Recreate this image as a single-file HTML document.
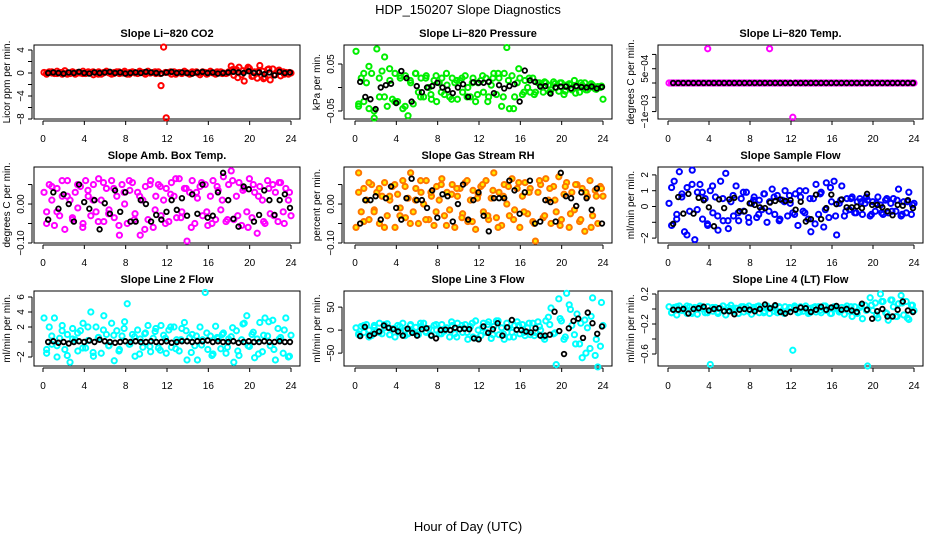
<!DOCTYPE html>
<html><head><meta charset="utf-8"><style>
body{margin:0;background:#fff;}
svg{display:block;font-family:"Liberation Sans",Arial,sans-serif;}
</style></head><body>
<svg id="chart" width="936" height="540" viewBox="0 0 936 540" xmlns="http://www.w3.org/2000/svg">
<rect width="936" height="540" fill="#fff"/>
<text x="468" y="14" font-size="13" text-anchor="middle">HDP_150207  Slope Diagnostics</text>
<text x="468" y="531" font-size="13" text-anchor="middle">Hour of Day (UTC)</text>
</svg>
<script>
const xTicks=[0,4,8,12,16,20,24];
const titles=["Slope Li\u2212820 CO2","Slope Li\u2212820 Pressure","Slope Li\u2212820 Temp.","Slope Amb. Box Temp.","Slope Gas Stream RH","Slope Sample Flow","Slope Line 2 Flow","Slope Line 3 Flow","Slope Line 4 (LT) Flow"];
const yTitles=["Licor ppm per min.","kPa per min.","degrees C per min.","degrees C per min.","percent per min.","ml/min per min.","ml/min per min.","ml/min per min.","ml/min per min."];
const yRanges=[[-8.0,4.87],[-0.067,0.0904],[-0.00126,0.00133],[-0.1,0.095],[-0.1,0.095],[-2.31,2.5],[-3.2,6.8],[-78,85],[-0.76,0.24]];
const yTicks=[[-8,-6,-4,-2,0,2,4],[-0.05,0,0.05],[-0.001,-0.0005,0,0.0005,0.001],[-0.1,-0.05,0,0.05],[-0.1,-0.05,0,0.05],[-2,-1,0,1,2],[-2,0,2,4,6],[-50,0,50],[-0.6,-0.4,-0.2,0,0.2]];
const yTickLabels=[["\u22128","","\u22124","","0","","4"],["\u22120.05","","0.05"],["\u22121e\u221203","","","5e\u221204",""],["\u22120.10","","0.00",""],["\u22120.10","","0.00",""],["\u22122","","0","1","2"],["\u22122","","2","4","6"],["\u221250","0","50"],["\u22120.6","","\u22120.2","","0.2"]];
const colors=["#ff0000","#00ee00","#ff00ff","#ff00ff","#ff7700","#0000ff","#00ffff","#00ffff","#00ffff"];

const co2C=[0.1,-0.2,0.2,0,-0.1,0.3,0.1,-0.2,0.4,0,-0.1,0.2,-0.2,0.1,0,0.3,-0.1,0.2,0.1,-0.3,0,0.2,-0.2,0.1,0.3,0,-0.2,0.1,0.2,-0.1,0,0.3,-0.2,0.1,0.2,0,-0.1,0.2,0.1,-0.2,0.3,0,0.1,-0.1,0.2,-2.2,4.5,-7.8,0.1,-0.2,0.2,0,0.1,-0.1,0.3,0,-0.2,0.2,0.1,0,-0.3,0.2,0.1,-0.1,0.3,0,-0.2,0.1,0.2,0,-0.1,0.2,1.2,-0.4,0.6,1.0,-0.3,-1.4,0.5,0.8,-0.6,0.2,-0.9,1.3,0.3,-0.8,0.6,-1.2,0.7,-0.3,0.4,-0.5,0.2,0.1,-0.2,0];
const co2C2=[0,0.2,-0.1,0.1,-0.2,0.2,0,-0.1,0.1,0.2,-0.2,0,0.1,-0.1,0.2,0,-0.2,0.1,0.3,-0.1,0,0.2,-0.1,0.1,0.2,-0.2,0,0.1,-0.1,0.2,0,-0.2,0.1,0.2,-0.1,0,0.6,-0.8,0.4,1.0,-0.5,0.3,-1.0,0.7,-0.3,0.5,-0.2,0.1];
const co2B=[0,0.1,0,-0.1,0.1,0,0.2,0,-0.1,0.1,0,0.1,0.2,0,0.1,-0.1,0,0.1,0,0.2,0.1,0,-0.1,0.1,0.2,0,0.1,0,-0.1,0.1,0.2,0,0.1,-0.1,0,0.1,0.2,0.1,0,0.3,0,0.1,-0.2,0.1,-0.4,0.2,0,0.1];
const presC=[0.077,-0.035,0.02,-0.03,0.01,-0.045,0.03,-0.065,0.082,-0.02,0.035,0.065,-0.04,0.015,-0.025,0.03,-0.03,0.02,-0.045,0.025,-0.06,0.01,-0.035,0.03,-0.01,0.02,-0.02,0.025,0,-0.025,0.015,-0.03,0.01,0.02,-0.015,0.005,-0.02,0.02,0.01,-0.025,0.015,-0.01,0.025,0,-0.02,0.02,-0.03,0.01,0.015,-0.01,0.02,-0.02,0.005,0.03,-0.015,0.02,-0.04,0.03,0.085,-0.045,0.025,-0.02,0.01,0.02,-0.015,0.015,0,-0.01,0.02,-0.01,0.01,0.005,-0.01,0.01,0.005,-0.005,0.012,0,-0.008,0.01,-0.015,0.005,0.008,-0.005,0.015,0,-0.01,0.005,0.01,-0.005,0,0.005,-0.003,0.002,0,-0.025];
const presC2=[-0.04,0.03,0.045,-0.05,0.02,-0.02,0.04,-0.03,0.025,-0.04,0.015,0.03,-0.02,0.02,-0.015,0.025,-0.01,0.03,-0.025,0.015,0.02,-0.02,0.01,-0.015,0.025,-0.03,0.02,0.03,-0.02,0.015,-0.045,0.04,-0.01,0.02,-0.015,0.01,0.012,-0.01,0.008,0.01,-0.008,0.006,-0.012,0.01,-0.005,0.008,-0.004,0.003];
const presB=[0.012,-0.02,-0.025,-0.046,0.0,0.005,0.008,-0.033,0.035,0.02,-0.03,0.003,-0.01,0.0,0.003,0.01,0,-0.005,-0.012,0.0,0.007,-0.02,0.011,0.01,0.01,0.012,-0.012,0.005,-0.002,0.003,0.007,-0.03,0.036,0.015,0.012,0.002,0.003,-0.013,0.0,0.002,0.002,-0.002,0.003,0.001,0.0,0.002,-0.002,0.001];
const tempC=[0,0,0,0,0,0,0,0,0,0,0,0,0,0,0,0.0012,0,0,0,0,0,0,0,0,0,0,0,0,0,0,0,0,0,0,0,0,0,0,0,0.0012,0,0,0,0,0,0,0,0,-0.0012,0,0,0,0,0,0,0,0,0,0,0,0,0,0,0,0,0,0,0,0,0,0,0,0,0,0,0,0,0,0,0,0,0,0,0,0,0,0,0,0,0,0,0,0,0,0,0];
const tempC2=[0,0,0,0,0,0,0,0,0,0,0,0,0,0,0,0,0,0,0,0,0,0,0,0,0,0,0,0,0,0,0,0,0,0,0,0,0,0,0,0,0,0,0,0,0,0,0,0];
const tempB=[0,0,0,0,0,0,0,0,0,0,0,0,0,0,0,0,0,0,0,0,0,0,0,0,0,0,0,0,0,0,0,0,0,0,0,0,0,0,0,0,0,0,0,0,0,0,0,0];
const ambC=[0.03,-0.02,0.05,0.01,-0.055,0.04,-0.03,0.02,-0.065,0.06,0.01,-0.04,0.03,-0.01,0.045,-0.05,0.06,0.02,-0.03,0.05,-0.02,0.065,0.01,-0.045,0.04,-0.015,0.06,-0.035,0.02,-0.08,0.05,0.0,-0.05,0.035,0.055,-0.025,0.03,-0.08,0.01,0.045,-0.04,0.06,-0.06,0.02,0.05,-0.03,0.01,0.04,-0.045,0.055,0.02,-0.035,0.065,-0.02,0.04,-0.095,0.03,0.06,-0.05,0.015,0.045,-0.03,0.05,-0.055,0.02,0.06,-0.04,0.035,-0.015,0.07,-0.045,0.05,0.085,-0.04,0.02,0.055,-0.055,0.04,-0.02,0.065,-0.035,0.03,-0.075,0.045,0.01,-0.05,0.06,-0.025,0.05,0.03,-0.045,0.055,-0.02,0.04,0.01,-0.03];
const ambC2=[-0.05,0.045,-0.02,0.06,0.02,-0.035,0.05,-0.06,0.035,0.01,-0.045,0.055,-0.025,0.04,-0.055,0.03,0.06,-0.04,0.02,-0.065,0.05,-0.015,0.045,-0.05,0.025,0.065,-0.035,0.04,-0.06,0.03,0.055,-0.02,-0.05,0.045,0.01,-0.04,0.06,-0.03,0.035,-0.06,0.05,0.02,-0.045,0.04,-0.03,0.055,-0.05,0.03];
const ambB=[-0.04,0.03,-0.012,0.025,0,-0.045,0.05,0.005,-0.012,0.01,-0.065,0.002,-0.025,0.035,-0.02,0.03,-0.045,-0.045,0.01,0.0,-0.045,-0.028,-0.04,-0.02,0.01,-0.015,0.015,-0.03,0.025,-0.025,0.05,-0.035,-0.03,0.03,0.08,0.01,-0.038,-0.058,0.045,0.038,-0.045,-0.028,0.035,0.01,-0.028,0.01,0.025,-0.01];
const rhC=[-0.06,0.08,-0.02,0.04,0.01,-0.04,0.05,-0.015,0.03,-0.05,0.02,0.055,-0.03,0.01,0.045,-0.06,0.025,-0.01,0.06,-0.035,0.015,0.08,-0.02,0.04,-0.05,0.03,0.0,0.06,-0.04,0.02,-0.055,0.045,0.01,0.065,-0.03,0.03,-0.015,0.05,-0.06,0.02,0.04,-0.025,0.055,-0.045,0.01,0.035,-0.065,0.025,0.045,-0.02,0.06,-0.04,0.015,0.08,-0.035,0.03,-0.055,0.05,0.0,-0.03,0.065,-0.015,0.04,-0.06,0.02,0.055,-0.025,0.04,-0.045,-0.095,0.03,0.05,-0.035,0.065,0.01,-0.05,0.045,-0.02,0.07,-0.04,0.025,0.055,-0.06,0.03,-0.015,0.05,-0.045,0.04,-0.07,0.02,0.06,-0.03,0.035,-0.05,0.045,0.02];
const rhC2=[0.03,-0.045,0.055,-0.02,0.04,-0.06,0.02,0.05,-0.03,0.045,-0.05,0.01,0.06,-0.04,0.03,-0.02,0.05,-0.055,0.025,0.04,-0.035,0.06,-0.045,0.015,0.05,-0.03,0.035,-0.06,0.02,0.045,-0.04,0.055,-0.02,0.03,-0.05,0.06,-0.03,0.04,0.01,-0.055,0.045,-0.025,0.05,-0.04,0.03,-0.06,0.02,0.04];
const rhB=[-0.05,0.01,0.01,0.02,-0.04,0.015,0.045,-0.01,-0.04,0.015,0.065,0.01,0.01,-0.01,0.035,-0.035,0.025,0.02,-0.045,0.0,0.05,-0.04,0.01,0.03,-0.03,-0.07,0.015,0.015,0.015,0.06,0.035,-0.025,0.03,0.06,-0.05,-0.045,0.01,0.005,-0.045,0.08,0.02,0.015,-0.005,0.03,0.015,-0.015,0.04,-0.05];
const sfC=[0.2,-1.2,1.6,-0.5,2.2,0.8,-1.6,1.2,-0.3,2.3,-2.1,0.9,1.4,-0.8,0.5,-1.2,1.0,-0.4,0.6,-1.5,1.6,-0.9,2.1,-1.4,0.3,-0.6,1.3,-0.9,0.5,-0.3,0.9,-1.0,0.2,0.6,-0.7,0.4,-0.2,0.8,-1.0,0.3,1.1,-0.5,0.7,-0.8,0.4,1.0,-0.6,0.2,-0.4,0.8,-1.2,0.6,-0.3,1.0,-0.8,-1.6,0.5,1.4,-0.5,0.9,-1.3,1.5,-0.7,0.3,1.6,-1.8,0.2,1.3,-0.6,0.5,-0.2,0.6,-0.4,0.3,0.5,-0.5,0.2,0.4,-0.6,0.3,-0.3,0.6,0.1,-0.5,0.4,-0.4,0.2,0.5,-0.3,1.1,-0.6,0.3,-0.4,0.9,-0.5,0.2];
const sfC2=[1.2,-0.8,0.6,-1.8,1.4,-0.2,0.9,-1.1,1.3,-0.6,0.5,-0.9,0.7,-0.4,0.9,-0.7,0.4,-0.5,0.8,-0.3,0.6,-0.9,0.3,0.7,-0.5,1.0,-0.4,0.5,-1.1,0.8,-0.2,1.2,-0.6,0.4,-0.3,0.5,-0.4,0.3,0.6,-0.5,0.2,-0.4,0.5,-0.3,0.4,-0.5,0.3,0.1];
const sfB=[-1.1,0.6,-0.45,0.8,-0.45,0.55,0.4,-0.05,-1.25,0.45,-0.1,0.45,0.55,-0.3,-0.3,0.2,0.1,-0.05,-0.1,0.25,0.35,0.45,0.35,0.4,-0.2,0.3,-0.95,-0.8,0.75,-0.8,-0.1,0.75,0.15,0.45,-0.05,-0.05,0.0,-0.1,0.8,0.1,0.1,-0.05,-0.3,-0.55,0.1,0.05,0.4,-0.1];
const l2C=[3.2,-1.5,2.0,-0.3,3.2,-2.0,0.5,2.2,-1.0,1.0,-2.7,1.8,0.3,-1.2,1.5,2.5,-0.8,0.2,4.0,-1.9,2.0,0.6,-1.5,3.5,1.0,-0.5,2.5,-2.5,1.5,-1.0,0.8,2.7,5.1,-0.3,1.0,-1.9,1.6,0.4,-0.7,1.2,2.2,-1.3,0.5,1.8,-0.8,2.2,0.9,-1.5,1.6,-0.7,2.0,0.3,-1.2,1.8,2.6,-2.4,0.6,1.0,-0.5,-2.4,2.0,0.3,6.6,-1.0,0.8,-1.6,2.1,0.5,-0.9,1.2,-1.5,0.4,0.7,-2.7,1.5,-1.8,0.3,2.5,3.5,-0.6,1.0,-2.1,0.4,2.6,-1.3,3.2,0.8,-0.5,2.9,-2.4,1.8,0.6,-1.5,3.2,-2.0,0.9];
const l2C2=[-1.0,0.8,-0.5,1.5,-1.8,0.4,1.2,-0.8,2.0,-1.4,0.6,1.6,-0.5,0.9,-1.2,1.8,-0.3,0.7,-1.6,1.1,-0.6,1.4,-1.1,0.5,2.0,-0.9,0.3,1.5,-1.4,0.8,-0.4,1.2,-1.8,0.6,1.0,-0.7,1.9,-1.2,2.4,-0.5,1.3,-1.6,0.9,2.7,-1.0,0.4,1.6,-1.9];
const l2B=[0,0.1,-0.1,0,-0.2,0,0.1,0,0.2,0,0.3,0.1,0,-0.1,0,0.1,0,0.1,0,0,0.1,0,0,0.1,-0.1,0,0.1,0.1,0,0.1,0.1,0.2,0,0.1,0,0,0.1,-0.1,0,0.1,0,0,0.1,0,0,0.1,0,0];
const l3C=[5,-10,8,-5,12,0,-12,10,-3,15,-8,5,14,-10,3,-15,10,-5,15,0,-8,12,-3,6,-10,8,15,-5,3,-12,10,0,-8,12,-2,5,-15,10,-8,15,3,-5,12,-20,8,-15,20,0,-12,15,-5,18,-18,8,20,-10,5,-20,15,-15,-5,10,18,-8,12,-12,5,-10,15,-5,18,0,-15,20,28,48,-8,-75,68,20,-20,80,55,10,-10,35,-30,-60,22,5,-40,70,-55,-80,-35,10];
const l3C2=[-8,10,-15,6,-5,12,-10,4,8,-12,10,-6,15,-3,-10,12,-8,5,18,-15,10,-5,15,-18,6,12,-10,20,-8,5,-15,10,-5,15,-12,8,-20,12,-6,25,-15,45,-30,15,-50,30,-20,60];
const l3B=[-13,7,-12,-8,-3,10,5,2,-3,-12,3,-6,-12,2,4,-12,-18,0,1,0,5,2,3,2,-18,-20,8,-6,2,15,-12,6,22,1,0,-3,-5,4,-12,-12,-10,40,-2,-52,4,20,25,-17,38,15,-8,8];
const l4C=[0.03,-0.05,0.02,-0.08,0.04,-0.02,0.01,-0.06,0.03,-0.04,0.02,-0.07,0.04,0,-0.05,0.03,-0.74,-0.03,0.02,-0.06,0.01,0.04,-0.08,0.02,0.05,-0.03,0.01,-0.06,0.03,-0.04,0.02,0.04,-0.07,0,0.03,-0.05,0.02,-0.03,0.04,-0.06,0.01,0.03,-0.05,0.02,-0.04,0.03,-0.02,0.01,-0.55,0.02,-0.05,0.03,-0.03,0.04,-0.06,0.01,0.02,-0.04,0.03,-0.05,0.04,-0.02,0.01,-0.06,0.03,0,-0.04,0.02,-0.07,0.04,-0.03,-0.1,0.03,-0.06,0.02,-0.13,0.05,-0.76,0.15,-0.02,0.08,-0.12,0.2,0.1,-0.05,-0.15,0.12,0.03,-0.1,0.07,0.18,-0.08,0.1,-0.14,0.05,-0.02];
const l4C2=[-0.05,0.03,-0.02,0.04,-0.06,0.01,0.03,-0.05,0.02,-0.04,0.04,-0.02,0.01,-0.06,0.03,-0.03,0.02,0.04,-0.05,0.01,-0.03,0.03,-0.06,0.02,0.04,-0.04,0.01,-0.05,0.03,-0.02,0.04,-0.06,0.02,-0.03,0.01,0.03,-0.05,0.04,-0.02,0.05,-0.08,0.1,-0.06,0.12,-0.1,0.08,-0.12,0.05];
const l4B=[-0.01,-0.01,0.0,-0.06,0.0,0.01,0.03,-0.02,0.0,0.01,-0.03,-0.03,-0.07,-0.01,0.0,-0.01,-0.03,0.0,0.06,0.01,0.05,-0.04,-0.06,-0.04,-0.01,0.02,0.01,-0.04,-0.01,0.03,-0.01,0.02,0.04,-0.01,0.0,-0.02,-0.04,0.07,-0.01,-0.13,-0.03,0.0,-0.1,-0.1,-0.01,0.1,-0.02,-0.04];

const colorSeries=[co2C,presC,tempC,ambC,rhC,sfC,l2C,l3C,l4C];
const colorSeries2=[co2C2,presC2,tempC2,ambC2,rhC2,sfC2,l2C2,l3C2,l4C2];
const blackSeries=[co2B,presB,tempB,ambB,rhB,sfB,l2B,l3B,l4B];
const panelNames=["co2","pressure","licor-temp","amb-box-temp","gas-stream-rh","sample-flow","line2-flow","line3-flow","line4-flow"];

const svg=document.getElementById('chart');
const NS="http://www.w3.org/2000/svg";
const cols=[{l:34,r:300,x0:43,x1:291},{l:344,r:612,x0:355,x1:603},{l:658,r:923,x0:668,x1:914}];
const rows=[{t:45,b:119},{t:167,b:243},{t:291,b:366}];
function mk(tag,attrs,parent){const e=document.createElementNS(NS,tag);for(const k in attrs)e.setAttribute(k,attrs[k]);parent.appendChild(e);return e;}

for(let p=0;p<9;p++){
  const c=cols[p%3], r=rows[Math.floor(p/3)];
  const [ymin,ymax]=yRanges[p];
  const xs=v=>c.x0+(c.x1-c.x0)*v/24;
  const ys=v=>r.b-(v-ymin)/(ymax-ymin)*(r.b-r.t);
  const g=mk('g',{},svg);
  
  
  const tt=mk('text',{x:(c.l+c.r)/2,y:r.t-8,'font-size':11,'font-weight':'bold','text-anchor':'middle'},g);
  tt.textContent=titles[p];
  
  
  const xa=mk('g',{},g);
  
  
  mk('line',{x1:xs(0),x2:xs(24),y1:r.b+2,y2:r.b+2,stroke:'#000'},xa);
  xTicks.forEach(v=>{
    mk('line',{x1:xs(v),x2:xs(v),y1:r.b+2,y2:r.b+6,stroke:'#000'},xa);
    const t=mk('text',{x:xs(v),y:r.b+23,'font-size':10,'text-anchor':'middle'},xa);
    t.textContent=v;
    
    
  });
  const ya=mk('g',{},g);
  
  
  const tk=yTicks[p];
  mk('line',{x1:c.l-2,x2:c.l-2,y1:ys(tk[0]),y2:ys(tk[tk.length-1]),stroke:'#000'},ya);
  tk.forEach((v,i)=>{
    const y=ys(v);
    mk('line',{x1:c.l-6,x2:c.l-2,y1:y,y2:y,stroke:'#000'},ya);
    const lab=yTickLabels[p][i];
    if(lab){
      const t=mk('text',{x:c.l-10,y:y,'font-size':10,'text-anchor':'middle',transform:`rotate(-90 ${c.l-10} ${y})`},ya);
      t.textContent=lab;
      
      
    }
  });
  const yt=mk('text',{x:c.l-24,y:(r.t+r.b)/2,'font-size':10,'text-anchor':'middle',transform:`rotate(-90 ${c.l-24} ${(r.t+r.b)/2})`},g);
  yt.textContent=yTitles[p];
  
  
  const bx=mk('rect',{x:c.l,y:r.t,width:c.r-c.l,height:r.b-r.t,fill:'none',stroke:'#000'},g);
  
  
  const col=colors[p];
  const fillc=p===4?'#ffee00':'none';
  const cs=colorSeries[p];
  cs.forEach((v,i)=>{
    const t=0.1+i*23.9/(cs.length-1);
    const pt=mk('circle',{cx:xs(t),cy:ys(v),r:2.6,fill:fillc,stroke:col,'stroke-width':2},g);
    
    
  });
  const cs2=colorSeries2[p];
  cs2.forEach((v,i)=>{
    const t=0.35+i*23.5/(cs2.length-1);
    const pt=mk('circle',{cx:xs(t),cy:ys(v),r:2.6,fill:fillc,stroke:col,'stroke-width':2},g);
    
    
  });
  const bs=blackSeries[p];
  bs.forEach((v,i)=>{
    const t=0.5+i*23.4/(bs.length-1);
    const pt=mk('circle',{cx:xs(t),cy:ys(v),r:2.3,fill:'none',stroke:'#000','stroke-width':1.8},g);
    
    
  });
}
</script>
</body></html>
